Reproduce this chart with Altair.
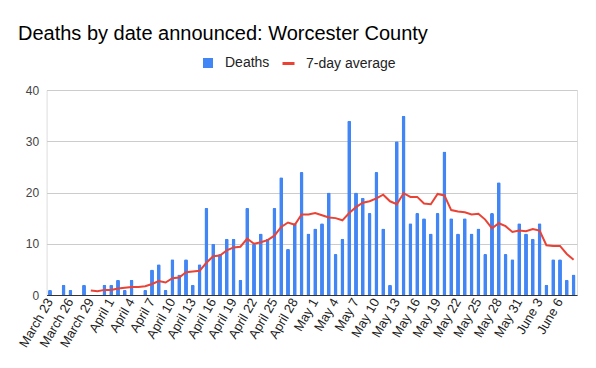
import altair as alt
import pandas as pd

# Category labels: every day from March 23 to June 8
dates = [d.strftime("%B ") + str(d.day) for d in pd.date_range("2020-03-23", "2020-06-08")]

deaths = [
    # March 23-31
    1, 0, 2, 1, 0, 2, 0, 0, 2,
    # April 1-30
    2, 3, 1, 3, 0, 1, 5, 6, 1, 7, 4, 7, 2, 6, 17, 10, 8, 11, 11, 3,
    17, 10, 12, 11, 17, 23, 9, 14, 24, 12,
    # May 1-31
    13, 14, 20, 8, 11, 34, 20, 19, 16, 24, 13, 2, 30, 35, 14, 16, 15, 12, 16, 28,
    15, 12, 15, 12, 13, 8, 16, 22, 8, 7, 14,
    # June 1-8
    12, 11, 14, 2, 7, 7, 3, 4,
]

tick_labels = dates[::3]
bar_series = ["Deaths"]
line_series = ["7-day average"]
bar_color = "#4285F4"
line_color = "#EA4335"
y_ticks = [0, 10, 20, 30, 40]

df = pd.DataFrame({"date": dates, "idx": list(range(len(dates))), "deaths": deaths})
df["series"] = bar_series[0]

FONT = "Liberation Sans"

x = alt.X(
    "date:N",
    sort=dates,
    scale=alt.Scale(paddingInner=0.42, paddingOuter=0.21),
    axis=alt.Axis(
        values=tick_labels, labelAngle=-60, title=None, ticks=False,
        domainColor="#333333", labelFontSize=13, labelColor="#222222",
        labelFont=FONT, labelPadding=4, labelAlign="right", labelBaseline="middle",
    ),
)

bars = alt.Chart(df).mark_bar(cornerRadiusTopLeft=1.5, cornerRadiusTopRight=1.5).encode(
    x=x,
    y=alt.Y(
        "deaths:Q",
        scale=alt.Scale(domain=[0, 40]),
        axis=alt.Axis(
            values=y_ticks, title=None, ticks=False, domain=False,
            gridColor="#cccccc", labelColor="#444444", labelFontSize=12,
            labelFont=FONT, labelPadding=8,
        ),
    ),
    color=alt.Color(
        "series:N",
        scale=alt.Scale(domain=bar_series, range=[bar_color]),
        legend=alt.Legend(
            orient="none", legendX=154.4, legendY=-34, direction="horizontal",
            title=None, labelFont=FONT, labelFontSize=14, labelColor="#222222",
            symbolType="square", symbolSize=100, labelOffset=10, padding=0,
        ),
    ),
)

line = alt.Chart(df).transform_window(
    avg="mean(deaths)", frame=[-6, 0], sort=[{"field": "idx"}]
).transform_filter(
    "datum.idx >= 6"
).transform_calculate(
    series2="'7-day average'"
).mark_line(strokeWidth=2).encode(
    x=x,
    y=alt.Y("avg:Q"),
    stroke=alt.Stroke(
        "series2:N",
        scale=alt.Scale(domain=line_series, range=[line_color]),
        legend=alt.Legend(
            orient="none", legendX=234.4, legendY=-34, direction="horizontal",
            title=None, labelFont=FONT, labelFontSize=14, labelColor="#222222",
            symbolType="stroke", symbolSize=144, symbolStrokeWidth=3,
            labelOffset=10, padding=0,
        ),
    ),
)

chart = alt.layer(bars, line).properties(
    width=530.4,
    height=205,
    autosize=alt.AutoSizeParams(type="none"),
    padding={"left": 38.6, "top": 82, "right": 11, "bottom": 65},
    title=alt.TitleParams(
        "Deaths by date announced: Worcester County",
        anchor="start", frame="group", font=FONT, fontSize=20, fontWeight="normal",
        color="#000000", dx=-28.6, offset=12,
    ),
).configure_view(stroke=None).configure(background="white")

chart.save("out.html", embed_options={"renderer": "svg", "actions": False})
